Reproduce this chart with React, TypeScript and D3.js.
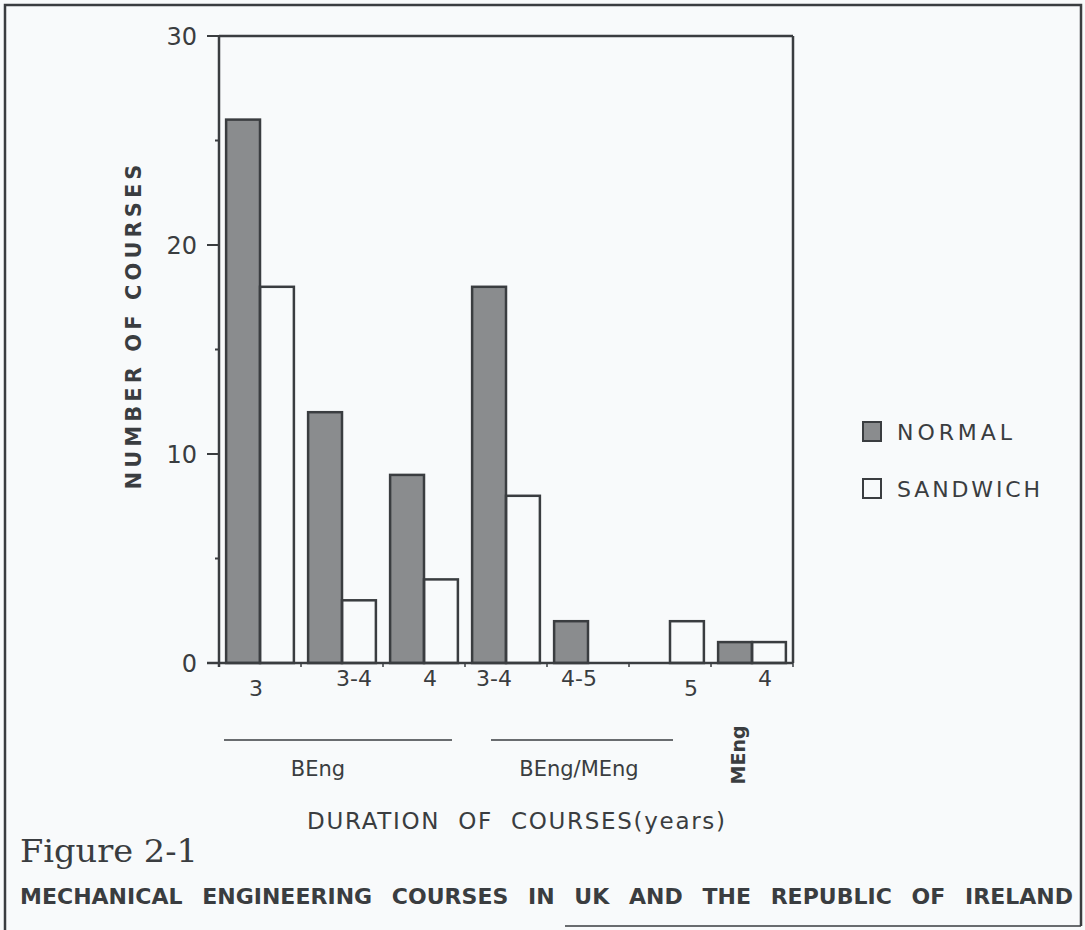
import React from "react";
import * as d3 from "d3";

const categories = ["3", "3-4", "4", "3-4", "4-5", "5", "4"];
const normalValues = [26, 12, 9, 18, 2, 0, 1];
const sandwichValues = [18, 3, 4, 8, 0, 2, 1];
const seriesNames = ["NORMAL", "SANDWICH"];
const yMajorTicks = [0, 10, 20, 30];
const yMinorTicks = [5, 15, 25];
const groupLabels = ["BEng", "BEng/MEng"];
const groupStart = [0, 3];
const groupEnd = [2, 5];
const sideLabel = "MEng";
const sideIndex = 6;

const W = 1085;
const H = 930;
const BG = "#f8fafb";
const INK = "#3a3d40";
const FILL = "#8a8c8e";
const SANS = "'DejaVu Sans', Verdana, sans-serif";

// layout-only nudges for the hand-placed category labels
const LABEL_DX = [-4, 12, 6, -12, -9, 21, 13];
const LABEL_DY = [8, -2, -2, -2, -2, 8, -2];

export default function App() {
  const left = 219, right = 793, top = 36, bottom = 663;
  const idx = categories.map((_, i) => i);
  const x = d3.scaleBand<number>().domain(idx).range([left, right]).paddingInner(0).paddingOuter(0);
  const sub = d3.scaleBand<string>().domain(seriesNames).range([0, x.bandwidth()]).paddingInner(0).paddingOuter(0.21);
  const y = d3.scaleLinear().domain([0, 30]).range([bottom, top]);

  const bars: { key: string; series: string; i: number; v: number }[] = [];
  idx.forEach((i) => {
    bars.push({ key: `n${i}`, series: "NORMAL", i, v: normalValues[i] });
    bars.push({ key: `s${i}`, series: "SANDWICH", i, v: sandwichValues[i] });
  });

  const boundaries = d3.range(categories.length + 1).map((k) => left + k * x.step());

  return (
    <svg width={W} height={H} style={{ display: "block", position: "absolute", left: 0, top: 0, background: BG }}>
      <rect x={0} y={0} width={W} height={H} fill={BG} />
      {/* page frame */}
      <path d={`M5,${H} L5,5 L1081,5 L1081,${H - 4}`} fill="none" stroke={INK} strokeWidth={2.5} />
      <line x1={565} x2={1081} y1={H - 4} y2={H - 4} stroke={INK} strokeWidth={1.5} />

      {/* bars */}
      {bars.map((b) =>
        b.v > 0 ? (
          <rect
            key={b.key}
            x={(x(b.i) as number) + (sub(b.series) as number)}
            y={y(b.v)}
            width={sub.bandwidth()}
            height={y(0) - y(b.v)}
            fill={b.series === "NORMAL" ? FILL : "none"}
            stroke={INK}
            strokeWidth={2.5}
          />
        ) : null
      )}

      {/* plot box */}
      <line x1={left} x2={right} y1={top} y2={top} stroke={INK} strokeWidth={2.5} />
      <line x1={right} x2={right} y1={top} y2={bottom} stroke={INK} strokeWidth={2.5} />
      <line x1={left} x2={left} y1={top} y2={bottom + 4} stroke={INK} strokeWidth={2.5} />
      <line x1={left - 12} x2={right} y1={bottom} y2={bottom} stroke={INK} strokeWidth={2.5} />

      {/* y ticks */}
      {yMajorTicks.map((t) => (
        <g key={`yt${t}`}>
          <line x1={left - 12} x2={left} y1={y(t)} y2={y(t)} stroke={INK} strokeWidth={2} />
          <text x={left - 22} y={y(t)} dy="0.36em" textAnchor="end" fontFamily={SANS} fontSize={24} fill={INK}>
            {t}
          </text>
        </g>
      ))}
      {yMinorTicks.map((t) => (
        <line key={`ym${t}`} x1={left - 4} x2={left} y1={y(t)} y2={y(t)} stroke={INK} strokeWidth={2} />
      ))}

      {/* x ticks */}
      {boundaries.map((bx, k) => (
        <line key={`xt${k}`} x1={bx} x2={bx} y1={bottom} y2={bottom + 4} stroke={INK} strokeWidth={1.5} />
      ))}

      {/* category labels */}
      {categories.map((c, i) => (
        <text
          key={`cl${i}`}
          x={(x(i) as number) + x.bandwidth() / 2 + LABEL_DX[i]}
          y={688 + LABEL_DY[i]}
          textAnchor="middle"
          fontFamily={SANS}
          fontSize={22}
          fill={INK}
        >
          {c}
        </text>
      ))}

      {/* group labels */}
      {groupLabels.map((g, k) => {
        const x1 = (x(groupStart[k]) as number) + (k === 0 ? 5 : 26);
        const x2 = (x(groupEnd[k]) as number) + (k === 0 ? 69 : 44);
        return (
          <g key={`g${k}`}>
            <line x1={x1} x2={x2} y1={740} y2={740} stroke={INK} strokeWidth={1.5} />
            <text
              x={(x1 + x2) / 2 + (k === 0 ? -20 : -3)}
              y={776}
              textAnchor="middle"
              fontFamily={SANS}
              fontSize={21}
              fill={INK}
            >
              {g}
            </text>
          </g>
        );
      })}
      <text
        transform={`translate(${(x(sideIndex) as number) + 27},${755}) rotate(-90)`}
        textAnchor="middle"
        dy="0.35em"
        fontFamily={SANS}
        fontSize={19}
        fontWeight="bold"
        fill={INK}
      >
        {sideLabel}
      </text>

      {/* axis titles */}
      <text
        transform={`translate(134,327) rotate(-90)`}
        textAnchor="middle"
        dy="0.35em"
        fontFamily={SANS}
        fontSize={21}
        fontWeight="bold"
        fill={INK}
        textLength={325}
        lengthAdjust="spacing"
      >
        NUMBER OF COURSES
      </text>
      <text
        x={307}
        y={829}
        fontFamily={SANS}
        fontSize={23}
        fill={INK}
        wordSpacing={9}
        textLength={418}
        lengthAdjust="spacing"
      >
        DURATION OF COURSES(years)
      </text>

      {/* legend */}
      {seriesNames.map((s, k) => (
        <g key={`lg${s}`}>
          <rect
            x={863}
            y={422 + k * 57}
            width={18}
            height={19}
            fill={s === "NORMAL" ? FILL : "none"}
            stroke={INK}
            strokeWidth={2}
          />
          <text
            x={897}
            y={432 + k * 57}
            dy="0.36em"
            fontFamily={SANS}
            fontSize={22}
            fill={INK}
            textLength={k === 0 ? 115 : 143}
            lengthAdjust="spacing"
          >
            {s}
          </text>
        </g>
      ))}

      {/* figure caption */}
      <text x={20} y={862} fontFamily="'DejaVu Serif', serif" fontSize={32} fill={INK} textLength={178} lengthAdjust="spacingAndGlyphs">
        Figure 2-1
      </text>
      <text
        x={20}
        y={904}
        fontFamily={SANS}
        fontSize={22}
        fontWeight="bold"
        fill={INK}
        wordSpacing={12}
        textLength={1053}
        lengthAdjust="spacing"
      >
        MECHANICAL ENGINEERING COURSES IN UK AND THE REPUBLIC OF IRELAND
      </text>
    </svg>
  );
}
